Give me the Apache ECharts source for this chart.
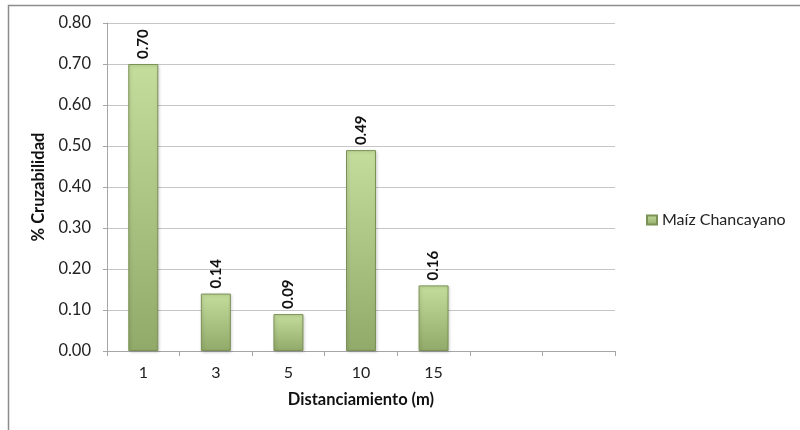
<!DOCTYPE html>
<html>
<head>
<meta charset="utf-8">
<style>
  html, body { margin: 0; padding: 0; background: #fff; }
  #chart { width: 800px; height: 430px; }
</style>
<script src="https://cdn.jsdelivr.net/npm/echarts@6/dist/echarts.min.js"></script>
</head>
<body>
<div id="chart"></div>
<script>
// Cross-pollination rate by separation distance
const categories = ['1', '3', '5', '10', '15', '', ''];
const seriesName = 'Maíz Chancayano';
const values = [0.70, 0.14, 0.09, 0.49, 0.16, null, null];
const yTicks = { min: 0, max: 0.8, interval: 0.1 };

const FONT = 'Lato, "Open Sans", sans-serif';

const chart = echarts.init(document.getElementById('chart'), null, { renderer: 'canvas' });

const barFill = new echarts.graphic.LinearGradient(0, 0, 0, 1, [
  { offset: 0, color: '#c4dd9c' },
  { offset: 1, color: '#91a969' }
]);

chart.setOption({
  animation: false,
  backgroundColor: '#ffffff',
  grid: { left: 107, right: 185, top: 23, bottom: 79, containLabel: false },
  legend: {
    data: [seriesName],
    left: 641,
    top: 207,
    itemWidth: 10,
    itemHeight: 9,
    itemGap: 5,
    icon: 'rect',
    textStyle: { fontFamily: FONT, fontSize: 16, color: '#222' }
  },
  xAxis: {
    type: 'category',
    data: categories,
    name: 'Distanciamiento (m)',
    nameLocation: 'middle',
    nameGap: 40,
    nameTextStyle: { fontFamily: FONT, fontSize: 16.5, fontWeight: 'bold', color: '#111' },
    axisLine: { lineStyle: { color: '#a6a6a6', width: 1 } },
    axisTick: { show: true, alignWithLabel: false, length: 5, lineStyle: { color: '#a6a6a6' } },
    axisLabel: { fontFamily: FONT, fontSize: 16, color: '#222', margin: 14 },
    splitLine: { show: false }
  },
  yAxis: {
    type: 'value',
    min: yTicks.min,
    max: yTicks.max,
    interval: yTicks.interval,
    name: '% Cruzabilidad',
    nameLocation: 'middle',
    nameGap: 50,
    nameRotate: 90,
    nameTextStyle: { fontFamily: FONT, fontSize: 16.5, fontWeight: 'bold', color: '#111' },
    axisLine: { show: true, lineStyle: { color: '#a6a6a6', width: 1 } },
    axisTick: { show: true, length: 4, lineStyle: { color: '#a6a6a6' } },
    axisLabel: {
      fontFamily: FONT, fontSize: 16.5, color: '#222', margin: 16,
      formatter: v => v.toFixed(2)
    },
    splitLine: { lineStyle: { color: '#c6c6c6', width: 1 } }
  },
  series: [{
    name: seriesName,
    type: 'bar',
    data: values,
    barWidth: 30,
    itemStyle: {
      color: barFill,
      borderColor: '#7b9156',
      borderWidth: 1,
      shadowColor: 'rgba(0,0,0,0.18)',
      shadowBlur: 3,
      shadowOffsetX: 1,
      shadowOffsetY: 1
    },
    label: {
      show: true,
      position: 'top',
      rotate: 90,
      align: 'left',
      verticalAlign: 'middle',
      distance: 5,
      fontFamily: FONT,
      fontSize: 15,
      fontWeight: 'bold',
      color: '#111',
      formatter: p => (p.value == null ? '' : p.value.toFixed(2))
    }
  }],
  graphic: [
    {
      type: 'polyline',
      shape: { points: [[8.5, 430], [8.5, 5.5], [800, 5.5]] },
      style: { stroke: '#8c8c8c', lineWidth: 1.5, fill: null },
      silent: true
    }
  ]
});
</script>
</body>
</html>
